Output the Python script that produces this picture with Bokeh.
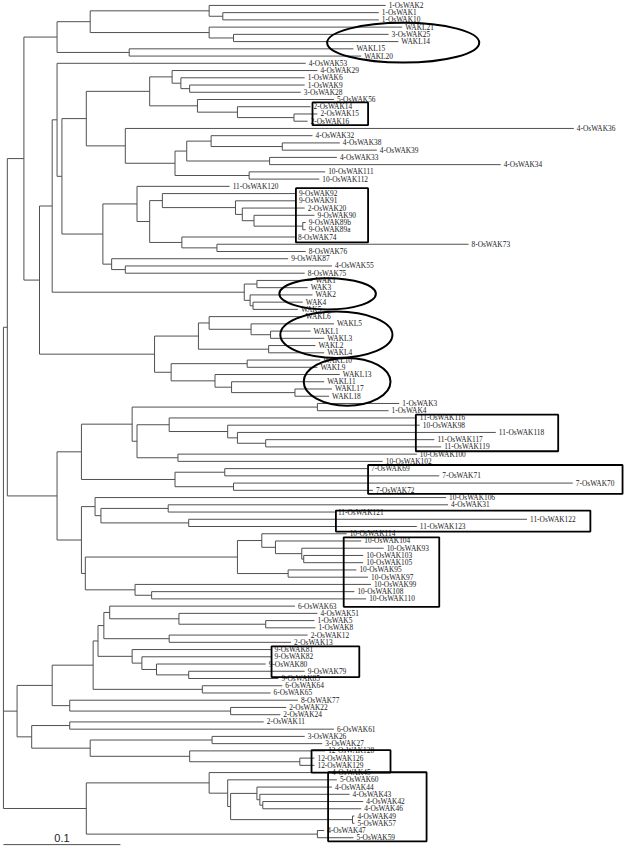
from bokeh.plotting import figure
from bokeh.models import ColumnDataSource, Range1d
from bokeh.embed import file_html
from bokeh.resources import INLINE
from bokeh.core.properties import value

# ---------------- data: leaves (top to bottom) and their tip depth ----------------
leaf_names = [
    "1-OsWAK2", "1-OsWAK1", "1-OsWAK10", "WAKL21", "3-OsWAK25", "WAKL14", "WAKL15", "WAKL20",
    "4-OsWAK53", "4-OsWAK29", "1-OsWAK6", "1-OsWAK9", "3-OsWAK28", "5-OsWAK56", "2-OsWAK14", "2-OsWAK15", "2-OsWAK16",
    "4-OsWAK36", "4-OsWAK32", "4-OsWAK38", "4-OsWAK39", "4-OsWAK33", "4-OsWAK34", "10-OsWAK111", "10-OsWAK112",
    "11-OsWAK120", "9-OsWAK92", "9-OsWAK91", "2-OsWAK20", "9-OsWAK90", "9-OsWAK89b", "9-OsWAK89a", "8-OsWAK74", "8-OsWAK73", "8-OsWAK76",
    "9-OsWAK87", "4-OsWAK55", "8-OsWAK75",
    "WAK1", "WAK3", "WAK2", "WAK4", "WAK5",
    "WAKL6", "WAKL5", "WAKL1", "WAKL3", "WAKL2", "WAKL4", "WAKL10", "WAKL9", "WAKL13", "WAKL11", "WAKL17", "WAKL18",
    "1-OsWAK3", "1-OsWAK4", "11-OsWAK116", "10-OsWAK98", "11-OsWAK118", "11-OsWAK117", "11-OsWAK119", "10-OsWAK100", "10-OsWAK102",
    "7-OsWAK69", "7-OsWAK71", "7-OsWAK70", "7-OsWAK72",
    "10-OsWAK106", "4-OsWAK31", "11-OsWAK121", "11-OsWAK122", "11-OsWAK123",
    "10-OsWAK114", "10-OsWAK104", "10-OsWAK93", "10-OsWAK103", "10-OsWAK105", "10-OsWAK95", "10-OsWAK97", "10-OsWAK99", "10-OsWAK108", "10-OsWAK110",
    "6-OsWAK63", "4-OsWAK51", "1-OsWAK5", "1-OsWAK8", "2-OsWAK12", "2-OsWAK13",
    "9-OsWAK81", "9-OsWAK82", "9-OsWAK80", "9-OsWAK79", "9-OsWAK85", "6-OsWAK64", "6-OsWAK65",
    "8-OsWAK77", "2-OsWAK22", "2-OsWAK24", "2-OsWAK11", "6-OsWAK61", "3-OsWAK26", "3-OsWAK27",
    "12-OsWAK128", "12-OsWAK126", "12-OsWAK129",
    "4-OsWAK45", "5-OsWAK60", "4-OsWAK44", "4-OsWAK43", "4-OsWAK42", "4-OsWAK46", "4-OsWAK49", "5-OsWAK57", "4-OsWAK47", "5-OsWAK59",
]

# tip depth (tree units: 120 units = 0.1 substitutions/site)
leaf_depth = [
    395, 388, 388, 412, 398, 408, 362, 370,
    313, 325, 312, 312, 308, 342, 318, 325, 315,
    588, 320, 348, 386, 345, 513, 333, 327,
    235, 303, 303, 312, 322, 313, 313, 302, 480, 313,
    295, 340, 312,
    320, 315, 320, 310, 305,
    310, 342, 318, 332, 323, 332, 328, 325, 348, 332, 340, 337,
    409, 398, 427, 430, 508, 445, 452, 427, 392,
    377, 450, 587, 382,
    457, 459, 343, 540, 427,
    355, 370, 393, 372, 372, 365, 377, 380, 363, 375,
    302, 325, 322, 323, 315, 298,
    278, 278, 272, 312, 285, 289, 277,
    305, 293, 287, 270, 342, 312, 330,
    333, 322, 322,
    337, 345, 340, 358, 372, 370, 363, 363, 332, 362,
]

# internal nodes (children listed before parents)
node_names = [
    "a1", "a2", "a3", "a4", "a5", "a6", "a7",
    "b1", "b2", "b3", "b4", "b5", "b6", "b7", "b8", "b9", "b10", "b11", "b12", "b13", "b14", "b15",
    "c1", "c2", "c3", "c4", "c5", "c6", "c7", "c8", "c9", "c10", "c11", "c12", "c13", "c14",
    "d1", "d2", "d3", "d4", "d5",
    "e1", "e2", "e3", "e4", "e5", "e6", "e7", "e8", "e9", "e10", "e11", "e12", "e13",
    "f1", "f2", "f3", "f4", "f5", "f6", "f7", "f8", "f9", "f10", "f11", "f12",
    "g1", "g2", "g3", "g4", "g5", "g6", "g7", "g8", "g9", "g10", "g11", "g12", "g13", "g14", "g15", "g16",
    "h1", "h2", "h3", "h4", "h5", "h6", "h7", "h8", "h9", "h10", "h11", "h12", "h13", "h14", "h15",
    "i1", "i2", "i3", "i4", "i5", "i6", "i7",
    "j1", "j2", "j3", "j4", "j5", "j6", "j7", "j8", "j9",
    "root",
]
node_depth = [
    228, 214, 239, 214, 92, 132, 58,
    194, 185, 176, 301, 243, 202, 153, 289, 216, 276, 191, 255, 179, 128, 88,
    310, 260, 248, 241, 166, 222, 186, 153, 140, 128, 114, 105, 63, 58,
    263, 259, 256, 250, 53,
    277, 257, 214, 275, 203, 253, 302, 237, 220, 175, 158, 40, 24,
    325, 272, 243, 233, 173, 182, 140, 135, 230, 239, 179, 83,
    172, 193, 103, 97, 311, 309, 282, 268, 295, 243, 155, 138, 87, 83, 58, 7,
    272, 183, 112, 173, 106, 193, 160, 145, 135, 100, 207, 95, 236, 71, 53,
    71, 217, 307, 194, 92, 32, 17,
    269, 266, 263, 361, 236, 233, 214, 325, 88,
    3,
]
node_children = [
    ["1-OsWAK1", "1-OsWAK10"], ["1-OsWAK2", "a1"], ["3-OsWAK25", "WAKL14"], ["WAKL21", "a3"],
    ["a2", "a4"], ["WAKL15", "WAKL20"], ["a5", "a6"],
    ["1-OsWAK9", "3-OsWAK28"], ["1-OsWAK6", "b1"], ["4-OsWAK29", "b2"], ["2-OsWAK15", "2-OsWAK16"],
    ["2-OsWAK14", "b4"], ["5-OsWAK56", "b5"], ["b3", "b6"], ["4-OsWAK38", "4-OsWAK39"], ["4-OsWAK32", "b8"],
    ["4-OsWAK33", "4-OsWAK34"], ["b9", "b10"], ["10-OsWAK111", "10-OsWAK112"], ["b11", "b12"],
    ["4-OsWAK36", "b13"], ["b7", "b14"],
    ["9-OsWAK89b", "9-OsWAK89a"], ["9-OsWAK90", "c1"], ["2-OsWAK20", "c2"], ["9-OsWAK91", "c3"],
    ["9-OsWAK92", "c4"], ["8-OsWAK73", "8-OsWAK76"], ["8-OsWAK74", "c6"], ["c5", "c7"],
    ["11-OsWAK120", "c8"], ["4-OsWAK55", "8-OsWAK75"], ["9-OsWAK87", "c10"], ["c9", "c11"],
    ["b15", "c12"], ["4-OsWAK53", "c13"],
    ["WAK1", "WAK3"], ["WAK4", "WAK5"], ["WAK2", "d2"], ["d1", "d3"], ["c14", "d4"],
    ["WAKL1", "WAKL3"], ["WAKL5", "e1"], ["WAKL6", "e2"], ["WAKL2", "WAKL4"], ["e3", "e4"],
    ["WAKL10", "WAKL9"], ["WAKL17", "WAKL18"], ["WAKL11", "e7"], ["WAKL13", "e8"], ["e6", "e9"],
    ["e5", "e10"], ["d5", "e11"], ["a7", "e12"],
    ["1-OsWAK3", "1-OsWAK4"], ["11-OsWAK117", "11-OsWAK119"], ["11-OsWAK118", "f2"], ["10-OsWAK98", "f3"],
    ["11-OsWAK116", "f4"], ["10-OsWAK100", "10-OsWAK102"], ["f5", "f6"], ["f1", "f7"],
    ["7-OsWAK69", "7-OsWAK71"], ["7-OsWAK70", "7-OsWAK72"], ["f9", "f10"], ["f8", "f11"],
    ["4-OsWAK31", "11-OsWAK121"], ["11-OsWAK122", "11-OsWAK123"], ["g1", "g2"], ["10-OsWAK106", "g3"],
    ["10-OsWAK103", "10-OsWAK105"], ["10-OsWAK93", "g5"], ["10-OsWAK104", "g6"], ["10-OsWAK114", "g7"],
    ["10-OsWAK95", "10-OsWAK97"], ["g8", "g9"], ["10-OsWAK108", "10-OsWAK110"], ["10-OsWAK99", "g11"],
    ["g10", "g12"], ["g4", "g13"], ["f12", "g14"], ["e13", "g15"],
    ["1-OsWAK5", "1-OsWAK8"], ["4-OsWAK51", "h1"], ["6-OsWAK63", "h2"], ["2-OsWAK12", "2-OsWAK13"],
    ["h3", "h4"], ["9-OsWAK79", "9-OsWAK85"], ["9-OsWAK80", "h6"], ["9-OsWAK82", "h7"], ["9-OsWAK81", "h8"],
    ["h5", "h9"], ["6-OsWAK64", "6-OsWAK65"], ["h10", "h11"], ["2-OsWAK22", "2-OsWAK24"],
    ["8-OsWAK77", "h13"], ["h12", "h14"],
    ["2-OsWAK11", "6-OsWAK61"], ["3-OsWAK26", "3-OsWAK27"], ["12-OsWAK126", "12-OsWAK129"],
    ["12-OsWAK128", "i3"], ["i2", "i4"], ["i1", "i5"], ["h15", "i6"],
    ["4-OsWAK42", "4-OsWAK46"], ["4-OsWAK43", "j1"], ["4-OsWAK44", "j2"], ["4-OsWAK49", "5-OsWAK57"],
    ["j3", "j4"], ["5-OsWAK60", "j5"], ["4-OsWAK45", "j6"], ["4-OsWAK47", "5-OsWAK59"], ["j7", "j8"],
    ["g16", "i7", "j9"],
]

scale_bar_value = "0.1"
scale_bar_units = 120

# highlighted groups: (shape, first leaf, last leaf)
group_shape = ["ellipse", "rect", "rect", "ellipse", "ellipse", "ellipse", "rect",
               "rect", "rect", "rect", "rect", "rect", "rect"]
group_first = ["WAKL21", "2-OsWAK14", "9-OsWAK92", "WAK3", "WAKL5", "WAKL9", "11-OsWAK116",
               "7-OsWAK69", "11-OsWAK121", "10-OsWAK104", "9-OsWAK81", "12-OsWAK126", "4-OsWAK45"]
group_last = ["WAKL20", "2-OsWAK16", "8-OsWAK74", "WAK4", "WAKL4", "WAKL18", "11-OsWAK119",
              "7-OsWAK72", "11-OsWAK123", "10-OsWAK110", "9-OsWAK79", "12-OsWAK129", "5-OsWAK59"]

# ---------------- layout of the group marks (horizontal extent, vertical padding) ----------------
group_x0 = [335, 320, 303, 286, 287, 311, 426, 377, 344, 352, 278, 319, 336]
group_x1 = [491, 377, 377, 385, 402, 400, 572, 638, 605, 450, 368, 400, 437]
group_pad_top = [0.6, 0.6, 0.75, 1.3, 1.7, 1.3, 0.45, 0.5, 0.2, 0.5, 0.45, 1.1, 0.05]
group_pad_bot = [0.9, 0.55, 0.75, 1.0, 0.7, 1.3, 0.6, 0.5, 0.7, 1.1, 0.8, 1.0, 0.5]

# ---------------- build geometry ----------------
ypos = {n: float(i) for i, n in enumerate(leaf_names)}
xpos = {n: float(d) for n, d in zip(leaf_names, leaf_depth)}
for n, d, ch in zip(node_names, node_depth, node_children):
    ypos[n] = (ypos[ch[0]] + ypos[ch[-1]]) / 2.0
    xpos[n] = float(d)

x0s, y0s, x1s, y1s = [], [], [], []
for n, ch in zip(node_names, node_children):
    x = xpos[n]
    x0s.append(x); y0s.append(ypos[ch[0]]); x1s.append(x); y1s.append(ypos[ch[-1]])
    for c in ch:
        x0s.append(x); y0s.append(ypos[c]); x1s.append(xpos[c]); y1s.append(ypos[c])

n_leaves = len(leaf_names)
top_pad = 0.678
bottom_pad = 1.35

p = figure(width=624, height=847, output_backend="svg", toolbar_location=None,
           x_range=Range1d(0, 640), y_range=Range1d(n_leaves - 1 + bottom_pad, -top_pad),
           x_axis_type=None, y_axis_type=None, min_border=0)
p.grid.visible = False
p.outline_line_color = None
p.background_fill_color = "white"

p.segment(x0="x0", y0="y0", x1="x1", y1="y1",
          source=ColumnDataSource(dict(x0=x0s, y0=y0s, x1=x1s, y1=y1s)),
          line_color="#505050", line_width=1)

p.text(x="x", y="y", text="t",
       source=ColumnDataSource(dict(x=[float(d) for d in leaf_depth], y=[ypos[n] for n in leaf_names], t=leaf_names)),
       text_font=value("Liberation Serif"), text_font_size=value("7.4px"),
       text_baseline="middle", text_align="left", x_offset=3, text_color="#1a1a1a")

# group marks
el = dict(x=[], y=[], w=[], h=[])
rc = dict(l=[], r=[], t=[], b=[])
for s, f, l, gx0, gx1, pt, pb in zip(group_shape, group_first, group_last, group_x0, group_x1,
                                    group_pad_top, group_pad_bot):
    yt = ypos[f] - pt
    yb = ypos[l] + pb
    if s == "ellipse":
        el["x"].append((gx0 + gx1) / 2); el["y"].append((yt + yb) / 2)
        el["w"].append(gx1 - gx0); el["h"].append(yb - yt)
    else:
        rc["l"].append(gx0); rc["r"].append(gx1); rc["t"].append(yt); rc["b"].append(yb)

p.ellipse(x="x", y="y", width="w", height="h", source=ColumnDataSource(el),
          fill_color=None, line_color="black", line_width=2)
p.quad(left="l", right="r", top="t", bottom="b", source=ColumnDataSource(rc),
       fill_color=None, line_color="black", line_width=1.8)

# scale bar
root_x = xpos["root"]
sb_y = n_leaves - 1 + 0.95
p.segment(x0=[root_x], y0=[sb_y], x1=[root_x + scale_bar_units], y1=[sb_y],
          line_color="#505050", line_width=1)
p.text(x=[root_x + scale_bar_units / 2], y=[sb_y - 0.35], text=[scale_bar_value],
       text_font=value("Liberation Sans"), text_font_size=value("11px"),
       text_align="center", text_baseline="bottom", text_color="#222222")

open("out.html", "w").write(file_html(p, INLINE))
